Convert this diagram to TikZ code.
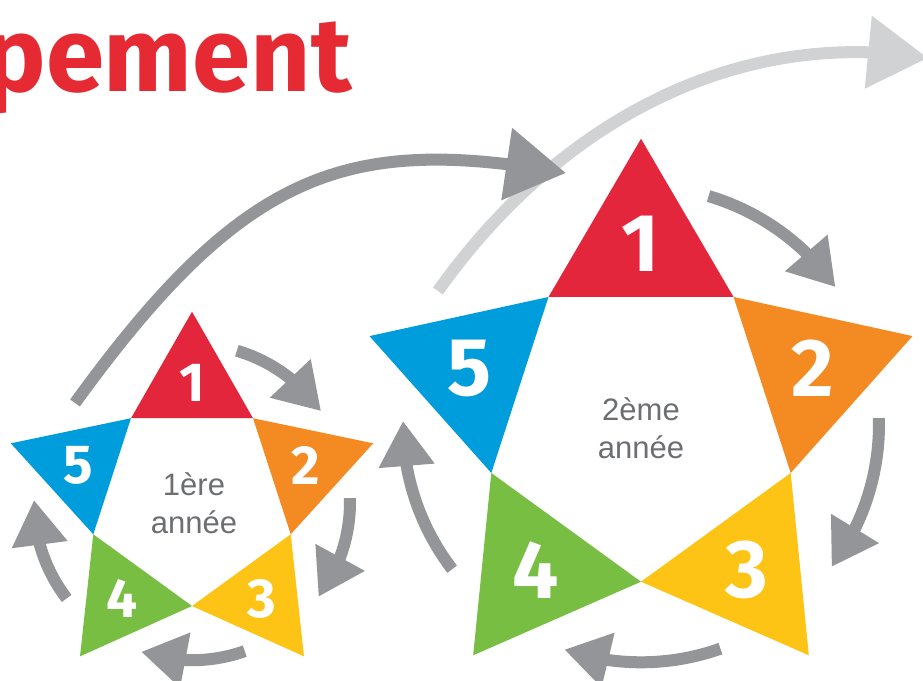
\documentclass[tikz,border=0pt]{standalone}
\usepackage{fontspec}
\setmainfont{Liberation Sans}
\newfontfamily\numfont{Fira Sans}
\usetikzlibrary{arrows.meta,bending,calc}
\definecolor{cRed}{HTML}{E4263C}
\definecolor{cTitle}{HTML}{E62A33}
\definecolor{cOrange}{HTML}{F48A22}
\definecolor{cYellow}{HTML}{FDC416}
\definecolor{cGreen}{HTML}{77BE43}
\definecolor{cBlue}{HTML}{009DDC}
\definecolor{cGray}{HTML}{939598}
\definecolor{cLight}{HTML}{D1D2D4}
\definecolor{cText}{HTML}{6D6E71}
\tikzset{
  arr/.style={draw=cGray, line width=12pt, -{Triangle[length=45pt,width=53pt,flex]}},
  bigarr/.style={draw=#1, line width=12pt, -{Triangle[length=60pt,width=70pt,flex]}},
  numtxt/.style={text=white, inner sep=0pt},
  lbl/.style={text=cText, inner sep=0pt, font=\fontsize{31}{36}\selectfont},
  titletxt/.style={text=cTitle, inner sep=0pt, font=\numfont\bfseries\fontsize{105}{115}\selectfont}
}
\newcommand\mystar[5]{%
  \coordinate (#1c) at #2;
  \foreach \i/\col in {1/cRed,2/cOrange,3/cYellow,4/cGreen,5/cBlue}{
    \pgfmathsetmacro\a{-90+72*(\i-1)}
    \fill[\col] ($(#1c)+(\a:#3)$) -- ($(#1c)+({\a+36}:#4)$) -- ($(#1c)+({\a-36}:#4)$) -- cycle;
    \node[numtxt, font=\numfont\bfseries\fontsize{#5}{#5}\selectfont] (#1n\i) at ($(#1c)+(\a:{(#3+1.618*#4)/3})$) {\i};
  }
}
\begin{document}
\begin{tikzpicture}[x=1pt,y=-1pt]
\useasboundingbox (0,0) rectangle (923,680);
\clip (0,0) rectangle (923,680);
\fill[white] (0,0) rectangle (923,680);
% title
\node[titletxt, anchor=base east] (title) at (352,91) {pement};
% stars
\mystar{S}{(192,502.2)}{190.5}{103.8}{55}
\mystar{L}{(641,424.3)}{285.5}{157.4}{82}
% labels
\node[lbl, anchor=base] (t1a) at (194,495) {1ère};
\node[lbl, anchor=base] (t1b) at (194,533) {année};
\node[lbl, anchor=base] (t2a) at (641,420) {2ème};
\node[lbl, anchor=base] (t2b) at (641,458) {année};
% cycle arrows
\foreach \k in {0,1,2,3}{
  \draw[arr] ($(Sc)+({-73.5+72*\k}:158)$) arc[start angle={-73.5+72*\k}, end angle={-35.2+72*\k}, radius=158];
  \draw[arr] ($(Lc)+({-73.5+72*\k}:238)$) arc[start angle={-73.5+72*\k}, end angle={-35.2+72*\k}, radius=238];
}
% year arrows
\coordinate (g0) at (438,291);
\coordinate (g3) at (928,58);
\draw[bigarr=cLight] (g0) .. controls (553.6,127.8) and (730.6,26) .. (g3);
\coordinate (d0) at (75,403);
\coordinate (d3) at (566,173);
\draw[bigarr=cGray] (d0) .. controls (245,168) and (349,135) .. (d3);
\end{tikzpicture}
\end{document}
